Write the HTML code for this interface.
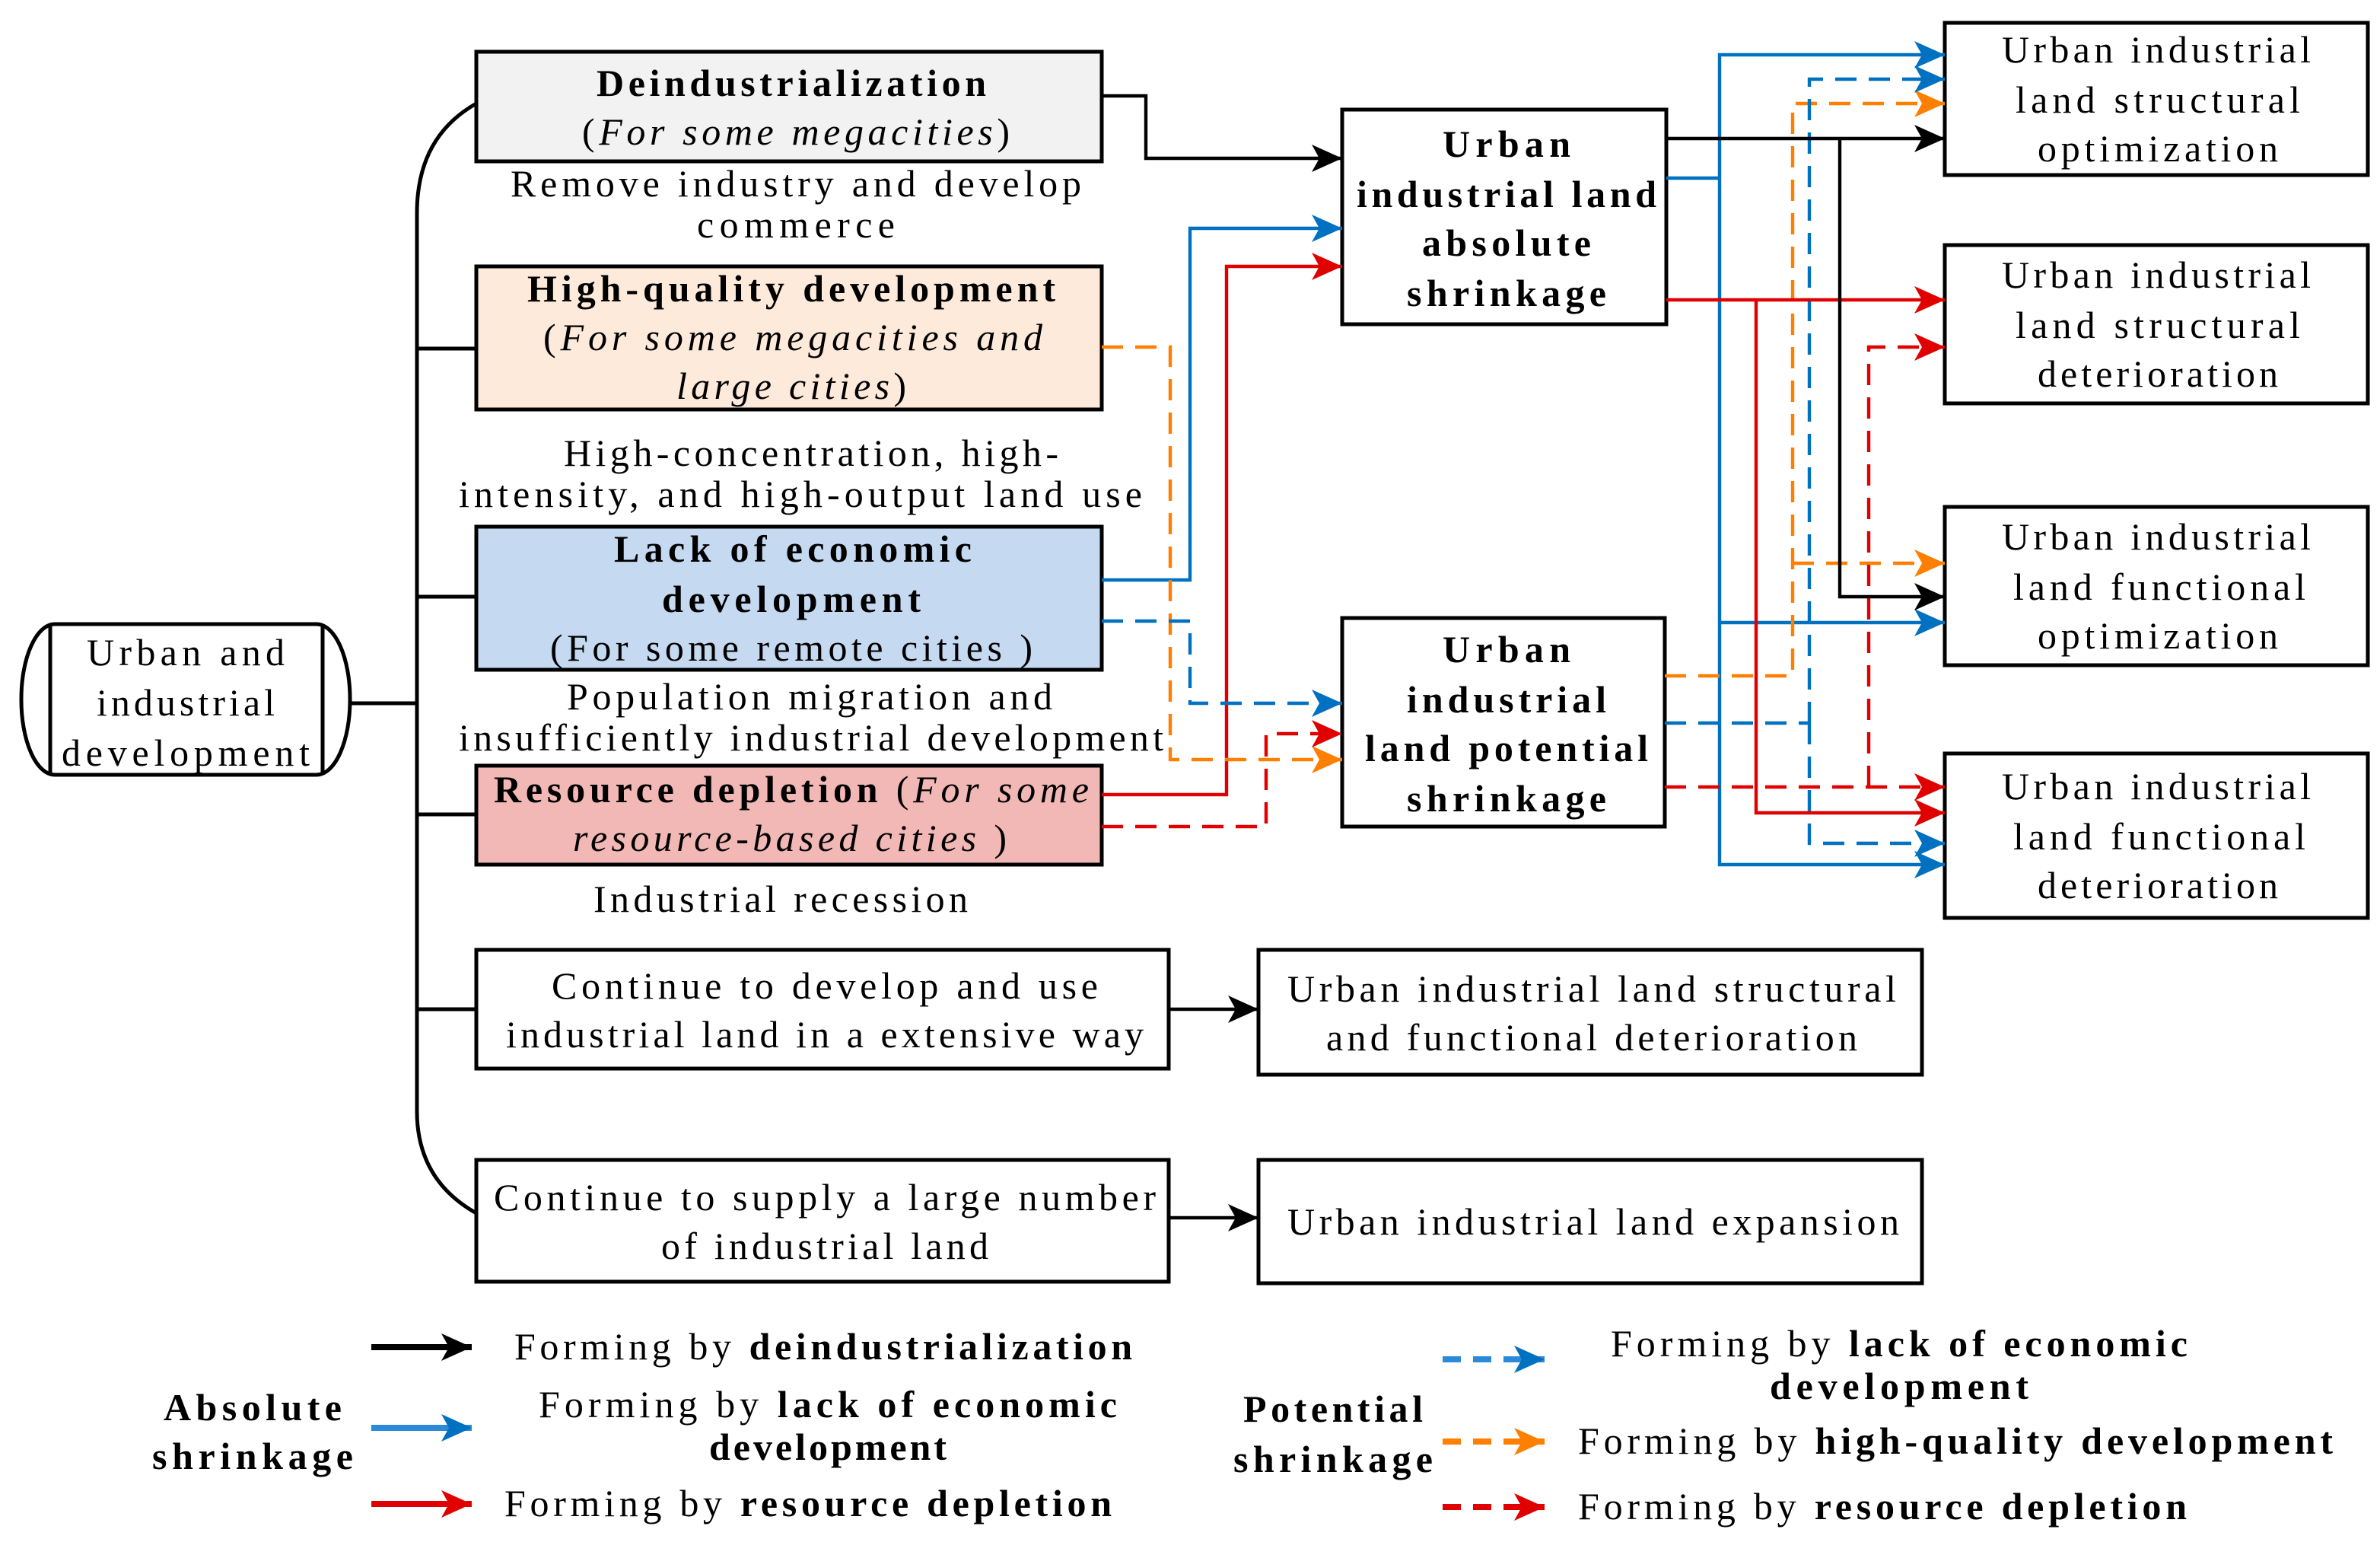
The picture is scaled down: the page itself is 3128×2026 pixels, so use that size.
<!DOCTYPE html>
<html><head><meta charset="utf-8"><style>
html,body{margin:0;padding:0;background:#fff}
svg{display:block}
text{font-family:"Liberation Serif","Times New Roman",serif;font-size:25px;fill:#000;text-anchor:middle}
.b{font-weight:bold}
.i{font-style:italic}
.bx{fill:#fff;stroke:#000;stroke-width:2.5}
.c{fill:none;stroke-width:2.2}
.d{stroke-dasharray:14,8}
</style></head><body>
<svg width="3128" height="2026" viewBox="0 0 1564 1013" xmlns="http://www.w3.org/2000/svg">
<defs>
<marker id="mk" markerUnits="userSpaceOnUse" markerWidth="22" markerHeight="18" refX="20" refY="9" orient="auto"><path d="M0,0 L20,9 L0,18 L5,9 Z" fill="#000"/></marker>
<marker id="mb" markerUnits="userSpaceOnUse" markerWidth="22" markerHeight="18" refX="20" refY="9" orient="auto"><path d="M0,0 L20,9 L0,18 L5,9 Z" fill="#0070c0"/></marker>
<marker id="mr" markerUnits="userSpaceOnUse" markerWidth="22" markerHeight="18" refX="20" refY="9" orient="auto"><path d="M0,0 L20,9 L0,18 L5,9 Z" fill="#e00000"/></marker>
<marker id="mo" markerUnits="userSpaceOnUse" markerWidth="22" markerHeight="18" refX="20" refY="9" orient="auto"><path d="M0,0 L20,9 L0,18 L5,9 Z" fill="#ff7f00"/></marker>
</defs>

<!-- capsule -->
<rect x="14" y="410" width="216" height="99" rx="22" ry="49" class="bx"/>
<line x1="33" y1="411" x2="33" y2="508" stroke="#000" stroke-width="2.5"/>
<line x1="212" y1="411" x2="212" y2="508" stroke="#000" stroke-width="2.5"/>
<text x="122" y="437" textLength="130" lengthAdjust="spacing">Urban and</text>
<text x="122" y="470" textLength="117" lengthAdjust="spacing">industrial</text>
<text x="122" y="503" textLength="163" lengthAdjust="spacing">development</text>

<!-- trunk -->
<path d="M230,462 H274 M313,68 Q274,90 274,140 L274,730 Q274,775 313,797 M274,229 H313 M274,392 H313 M274,535 H313 M274,663 H313" fill="none" stroke="#000" stroke-width="2.5"/>

<!-- left boxes -->
<rect x="313" y="34" width="411" height="72" class="bx" style="fill:#f2f2f2"/>
<text x="520" y="63" class="b" textLength="256" lengthAdjust="spacing">Deindustrialization</text>
<text x="523" y="95" textLength="281" lengthAdjust="spacing">(<tspan class="i">For some megacities</tspan>)</text>
<text x="523" y="129" textLength="375" lengthAdjust="spacing">Remove industry and develop</text>
<text x="523" y="156" textLength="130" lengthAdjust="spacing">commerce</text>

<rect x="313" y="175" width="411" height="94" class="bx" style="fill:#fdeada"/>
<text x="520" y="198" class="b" textLength="347" lengthAdjust="spacing">High-quality development</text>
<text x="521" y="230" textLength="328" lengthAdjust="spacing">(<tspan class="i">For some megacities and</tspan></text>
<text x="520" y="262" textLength="151" lengthAdjust="spacing"><tspan class="i">large cities</tspan>)</text>
<text x="533" y="306" textLength="325" lengthAdjust="spacing">High-concentration, high-</text>
<text x="526" y="333" textLength="449" lengthAdjust="spacing">intensity, and high-output land use</text>

<rect x="313" y="346" width="411" height="94" class="bx" style="fill:#c5d9f1"/>
<text x="521" y="369" class="b" textLength="235" lengthAdjust="spacing">Lack of economic</text>
<text x="520" y="402" class="b" textLength="170" lengthAdjust="spacing">development</text>
<text x="520" y="434" textLength="317" lengthAdjust="spacing">(For some remote cities )</text>
<text x="532" y="466" textLength="319" lengthAdjust="spacing">Population migration and</text>
<text x="533" y="493" textLength="463" lengthAdjust="spacing">insufficiently industrial development</text>

<rect x="313" y="503" width="411" height="65" class="bx" style="fill:#f2b8b6"/>
<text x="520" y="527" textLength="391" lengthAdjust="spacing"><tspan class="b">Resource depletion</tspan> (<tspan class="i">For some</tspan></text>
<text x="519" y="559" textLength="285" lengthAdjust="spacing"><tspan class="i">resource-based cities</tspan> )</text>
<text x="513" y="599" textLength="246" lengthAdjust="spacing">Industrial recession</text>

<rect x="313" y="624" width="455" height="78" class="bx"/>
<text x="542" y="656" textLength="359" lengthAdjust="spacing">Continue to develop and use</text>
<text x="542" y="688" textLength="419" lengthAdjust="spacing">industrial land in a extensive way</text>
<rect x="313" y="762" width="455" height="80" class="bx"/>
<text x="542" y="795" textLength="435" lengthAdjust="spacing">Continue to supply a large number</text>
<text x="542" y="827" textLength="215" lengthAdjust="spacing">of industrial land</text>
<line x1="768" y1="663" x2="827" y2="663" class="c" stroke="#000" marker-end="url(#mk)"/>
<line x1="768" y1="800" x2="827" y2="800" class="c" stroke="#000" marker-end="url(#mk)"/>
<rect x="827" y="624" width="436" height="82" class="bx"/>
<text x="1046" y="658" textLength="400" lengthAdjust="spacing">Urban industrial land  structural</text>
<text x="1046" y="690" textLength="349" lengthAdjust="spacing">and functional deterioration</text>
<rect x="827" y="762" width="436" height="81" class="bx"/>
<text x="1047" y="811" textLength="402" lengthAdjust="spacing">Urban industrial land expansion</text>

<!-- middle boxes -->
<rect x="882" y="72" width="213" height="141" class="bx"/>
<text x="990" y="103" class="b" textLength="84" lengthAdjust="spacing">Urban</text>
<text x="990" y="136" class="b" textLength="197" lengthAdjust="spacing">industrial land</text>
<text x="990" y="168" class="b" textLength="111" lengthAdjust="spacing">absolute</text>
<text x="990" y="201" class="b" textLength="131" lengthAdjust="spacing">shrinkage</text>
<rect x="882" y="406" width="212" height="137" class="bx"/>
<text x="990" y="435" class="b" textLength="84" lengthAdjust="spacing">Urban</text>
<text x="990" y="468" class="b" textLength="131" lengthAdjust="spacing">industrial</text>
<text x="990" y="500" class="b" textLength="186" lengthAdjust="spacing">land potential</text>
<text x="990" y="533" class="b" textLength="131" lengthAdjust="spacing">shrinkage</text>

<!-- right boxes -->
<rect x="1278" y="15" width="278" height="100" class="bx"/>
<text x="1417" y="41" textLength="203" lengthAdjust="spacing">Urban industrial</text>
<text x="1418" y="74" textLength="187" lengthAdjust="spacing">land  structural</text>
<text x="1418" y="106" textLength="158" lengthAdjust="spacing">optimization</text>
<rect x="1278" y="161" width="278" height="104" class="bx"/>
<text x="1417" y="189" textLength="203" lengthAdjust="spacing">Urban industrial</text>
<text x="1418" y="222" textLength="187" lengthAdjust="spacing">land  structural</text>
<text x="1418" y="254" textLength="158" lengthAdjust="spacing">deterioration</text>
<rect x="1278" y="333" width="278" height="104" class="bx"/>
<text x="1417" y="361" textLength="203" lengthAdjust="spacing">Urban industrial</text>
<text x="1419" y="394" textLength="192" lengthAdjust="spacing">land  functional</text>
<text x="1418" y="426" textLength="158" lengthAdjust="spacing">optimization</text>
<rect x="1278" y="495" width="278" height="108" class="bx"/>
<text x="1417" y="525" textLength="203" lengthAdjust="spacing">Urban industrial</text>
<text x="1419" y="558" textLength="192" lengthAdjust="spacing">land  functional</text>
<text x="1418" y="590" textLength="158" lengthAdjust="spacing">deterioration</text>

<!-- left-to-middle connectors -->
<path d="M724,63 H753 V104 H882" class="c" stroke="#000" marker-end="url(#mk)"/>
<path d="M724,381 H782 V150 H882" class="c" stroke="#0070c0" marker-end="url(#mb)"/>
<path d="M724,522 H806 V175 H882" class="c" stroke="#e00000" marker-end="url(#mr)"/>
<path d="M724,228 H769 V499 H882" class="c d" stroke="#ff7f00" marker-end="url(#mo)"/>
<path d="M724,408 H782 V462 H882" class="c d" stroke="#0070c0" marker-end="url(#mb)"/>
<path d="M724,543 H832 V482 H882" class="c d" stroke="#e00000" marker-end="url(#mr)"/>

<!-- middle-to-right connectors -->
<path d="M1095,117 H1130" class="c" stroke="#0070c0"/>
<path d="M1130,117 V36 H1278" class="c" stroke="#0070c0" marker-end="url(#mb)"/>
<path d="M1130,117 V568 H1278" class="c" stroke="#0070c0" marker-end="url(#mb)"/>
<path d="M1130,409 H1278" class="c" stroke="#0070c0" marker-end="url(#mb)"/>
<path d="M1094,444 H1178 V68 H1278" class="c d" stroke="#ff7f00" marker-end="url(#mo)"/>
<path d="M1178,370 H1278" class="c d" stroke="#ff7f00" marker-end="url(#mo)"/>
<path d="M1094,475 H1189" class="c d" stroke="#0070c0"/>
<path d="M1189,475 V52 H1278" class="c d" stroke="#0070c0" marker-end="url(#mb)"/>
<path d="M1189,475 V554 H1278" class="c d" stroke="#0070c0" marker-end="url(#mb)"/>
<path d="M1095,197 H1278" class="c" stroke="#e00000" marker-end="url(#mr)"/>
<path d="M1154,197 V534 H1278" class="c" stroke="#e00000" marker-end="url(#mr)"/>
<path d="M1094,517 H1278" class="c d" stroke="#e00000" marker-end="url(#mr)"/>
<path d="M1228,517 V228 H1278" class="c d" stroke="#e00000" marker-end="url(#mr)"/>
<path d="M1095,91 H1278" class="c" stroke="#000" marker-end="url(#mk)"/>
<path d="M1209,91 V392 H1278" class="c" stroke="#000" marker-end="url(#mk)"/>

<!-- legend -->
<text x="166" y="933" class="b" textLength="117" lengthAdjust="spacing">Absolute</text>
<text x="166" y="965" class="b" textLength="132" lengthAdjust="spacing">shrinkage</text>
<line x1="244" y1="885" x2="310" y2="885" stroke="#000" stroke-width="4" marker-end="url(#mk)"/>
<line x1="244" y1="938" x2="310" y2="938" stroke="#2b8ad8" stroke-width="4" marker-end="url(#mb)"/>
<line x1="244" y1="988" x2="310" y2="988" stroke="#e00000" stroke-width="4" marker-end="url(#mr)"/>
<text x="541" y="893" textLength="406" lengthAdjust="spacing">Forming by <tspan class="b">deindustrialization</tspan></text>
<text x="544" y="931" textLength="380" lengthAdjust="spacing">Forming by <tspan class="b">lack of economic</tspan></text>
<text x="544" y="959" class="b" textLength="156" lengthAdjust="spacing">development</text>
<text x="531" y="996" textLength="399" lengthAdjust="spacing">Forming by <tspan class="b">resource depletion</tspan></text>

<text x="876" y="934" class="b" textLength="118" lengthAdjust="spacing">Potential</text>
<text x="876" y="967" class="b" textLength="131" lengthAdjust="spacing">shrinkage</text>
<line x1="948" y1="893" x2="1015" y2="893" stroke="#2b8ad8" stroke-width="4" stroke-dasharray="12,8" marker-end="url(#mb)"/>
<line x1="948" y1="947" x2="1015" y2="947" stroke="#ff7f00" stroke-width="4" stroke-dasharray="12,8" marker-end="url(#mo)"/>
<line x1="948" y1="990" x2="1015" y2="990" stroke="#e00000" stroke-width="4" stroke-dasharray="12,8" marker-end="url(#mr)"/>
<text x="1248" y="891" textLength="379" lengthAdjust="spacing">Forming by <tspan class="b">lack of economic</tspan></text>
<text x="1248" y="919" class="b" textLength="170" lengthAdjust="spacing">development</text>
<text x="1285" y="955" textLength="496" lengthAdjust="spacing">Forming by <tspan class="b">high-quality development</tspan></text>
<text x="1237" y="998" textLength="400" lengthAdjust="spacing">Forming by <tspan class="b">resource depletion</tspan></text>
</svg>
</body></html>
